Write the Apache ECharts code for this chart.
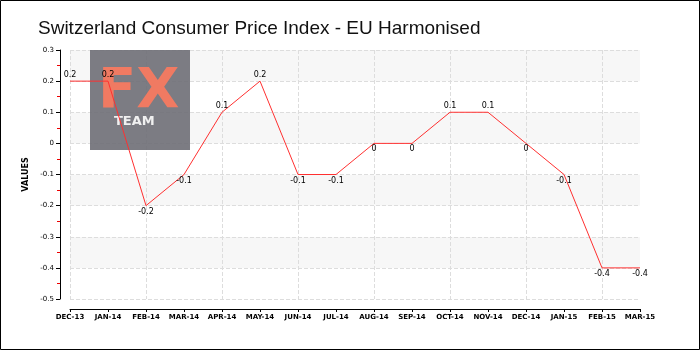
<!DOCTYPE html>
<html><head><meta charset="utf-8">
<script src="https://cdn.jsdelivr.net/npm/echarts@6/dist/echarts.min.js"></script>
<style>html,body{margin:0;padding:0;background:#fff}#c{width:700px;height:350px}</style>
</head><body><div id="c"></div>
<script>
const categories = ['DEC-13','JAN-14','FEB-14','MAR-14','APR-14','MAY-14','JUN-14','JUL-14','AUG-14','SEP-14','OCT-14','NOV-14','DEC-14','JAN-15','FEB-15','MAR-15'];
const values = [0.2,0.2,-0.2,-0.1,0.1,0.2,-0.1,-0.1,0,0,0.1,0.1,0,-0.1,-0.4,-0.4];
const titleText = 'Switzerland Consumer Price Index - EU Harmonised';
const yName = 'VALUES';

const chart = echarts.init(document.getElementById('c'));
const lblFont = 'DejaVu Sans';
chart.setOption({
  animation:false,
  backgroundColor:'#fff',
  title:{text:titleText,left:33,top:14,textStyle:{fontFamily:'Liberation Sans',fontSize:19,fontWeight:'normal',color:'#111'}},
  grid:[{left:70,right:60,top:50,bottom:51},{left:70,right:60,top:308,height:1}],
  graphic:[
    {type:'rect',z:100,silent:true,shape:{x:0.5,y:0.5,width:699,height:349},style:{fill:'none',stroke:'#000',lineWidth:1}},
    {type:'rect',z:5,shape:{x:90,y:50,width:100,height:100},style:{fill:'rgba(110,110,118,0.9)'}},
    {type:'text',z:6,left:98,top:64,style:{text:'FX',font:'bold 56px "DejaVu Sans"',fill:'#f07a62'}},
    {type:'text',z:6,left:114,top:115,style:{text:'TEAM',font:'bold 13px "DejaVu Sans"',fill:'#f0f0f0'}}
  ],
  xAxis:[{gridIndex:0,type:'category',data:categories,boundaryGap:false,
    axisLine:{show:false},axisTick:{show:false},axisLabel:{show:false},
    splitLine:{show:true,lineStyle:{color:'#ddd',type:'dashed'}}},
    {gridIndex:1,type:'category',data:categories,boundaryGap:false,position:'bottom',
    axisLine:{show:true,onZero:false,lineStyle:{color:'#000',width:1}},
    axisTick:{show:true,length:3,lineStyle:{color:'#000'}},
    axisLabel:{show:true,fontFamily:lblFont,fontSize:7,fontWeight:'bold',color:'#000',margin:5,interval:0},
    splitLine:{show:false}}],
  yAxis:[{gridIndex:0,type:'value',min:-0.5,max:0.3,interval:0.1,offset:10,
    name:yName,nameLocation:'middle',nameGap:27,nameTextStyle:{fontFamily:lblFont,fontSize:8,fontWeight:'bold',color:'#000'},
    axisLine:{show:true,lineStyle:{color:'#000',width:1}},
    axisTick:{show:true,length:4,lineStyle:{color:'#000'}},
    minorTick:{show:true,splitNumber:2,length:3,lineStyle:{color:'#e00'}},
    axisLabel:{fontFamily:lblFont,fontSize:7,color:'#000',margin:6,formatter:v=>String(Math.round(v*10)/10)},
    splitLine:{show:true,lineStyle:{color:'#ddd',type:'dashed'}},
    splitArea:{show:true,areaStyle:{color:['#ffffff','#f7f7f7']}}},
    {gridIndex:1,type:'value',min:0,max:1,show:false}],
  series:[{type:'line',xAxisIndex:0,yAxisIndex:0,data:values.map(v=>({value:v,label:{position:v>0?'top':'bottom',distance:1}})),
    showSymbol:true,symbol:'circle',symbolSize:2,itemStyle:{color:'rgba(0,0,0,0)',borderWidth:0},z:10,
    lineStyle:{color:'#ff3030',width:1},
    label:{show:true,fontFamily:lblFont,fontSize:8,color:'#000',opacity:1,formatter:p=>String(p.value)}}]
});
</script></body></html>
